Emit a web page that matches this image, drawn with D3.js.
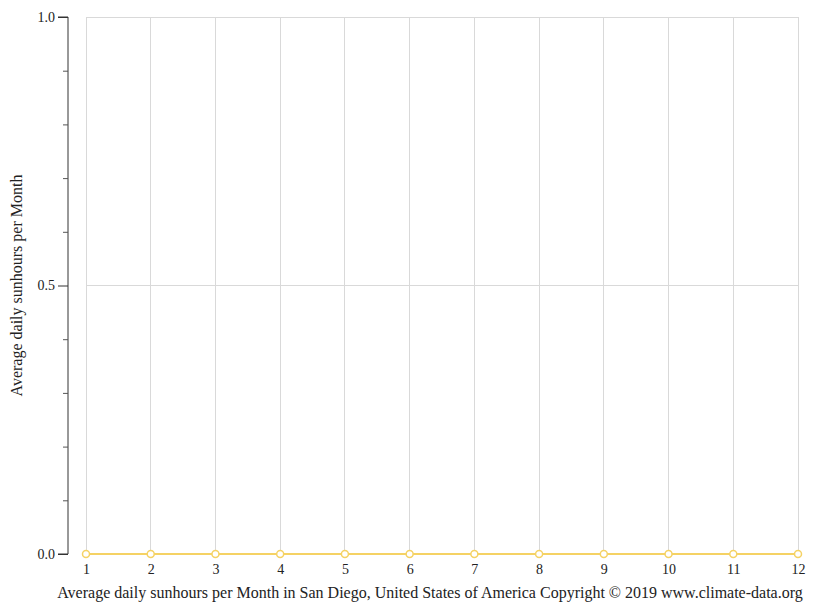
<!DOCTYPE html>
<html><head><meta charset="utf-8">
<script src="https://cdn.jsdelivr.net/npm/d3@7/dist/d3.min.js"></script>
<style>body{margin:0;background:#fff}svg{display:block}text{font-family:"Liberation Serif","DejaVu Serif",serif;fill:#222}</style>
</head><body>
<svg id="c" width="815" height="611"></svg>
<script>
const months = [1,2,3,4,5,6,7,8,9,10,11,12];
const sunhours = [0,0,0,0,0,0,0,0,0,0,0,0];
const yMajorTicks = [0, 0.5, 1.0];
const yMinorTicks = [0.1,0.2,0.3,0.4,0.6,0.7,0.8,0.9];
const yLabel = "Average daily sunhours per Month";
const title = "Average daily sunhours per Month in San Diego, United States of America Copyright © 2019 www.climate-data.org";

const svg = d3.select("#c");
const x = d3.scaleLinear().domain([1,12]).range([86,798]);
const y = d3.scaleLinear().domain([0,1]).range([554,17]);
const axisX = 68;

// grid
svg.append("g").selectAll("line").data(months).join("line")
  .attr("x1",d=>x(d)).attr("x2",d=>x(d)).attr("y1",y(0)).attr("y2",y(1))
  .attr("stroke","#d9d9d9").attr("stroke-width",1).attr("shape-rendering","crispEdges");
svg.append("g").selectAll("line").data(yMajorTicks.filter(d=>d>0)).join("line")
  .attr("x1",x(1)).attr("x2",x(12)).attr("y1",d=>y(d)).attr("y2",d=>y(d))
  .attr("stroke","#d9d9d9").attr("stroke-width",1).attr("shape-rendering","crispEdges");

// y axis
const yAxis = svg.append("g").attr("transform",`translate(${axisX},0)`)
  .call(d3.axisLeft(y).tickValues(yMajorTicks).tickFormat(d3.format(".1f")).tickSize(10).tickPadding(3));
yAxis.select(".domain").attr("stroke","#333").attr("d",`M-10,${y(1)}H0V${y(0)}H-10`);
yAxis.selectAll(".tick line").attr("stroke","#333");
yAxis.selectAll("text").style("font-family","Liberation Serif").style("font-size","14px").attr("fill","#222");
const yMinor = svg.append("g").attr("transform",`translate(${axisX},0)`)
  .call(d3.axisLeft(y).tickValues(yMinorTicks).tickFormat("").tickSize(5));
yMinor.select(".domain").remove();
yMinor.selectAll(".tick line").attr("stroke","#555");

// x labels
const xAxis = svg.append("g").attr("transform",`translate(0,${y(0)})`)
  .call(d3.axisBottom(x).tickValues(months).tickFormat(d3.format("d")).tickSize(0).tickPadding(10));
xAxis.select(".domain").remove();
xAxis.selectAll("text").style("font-family","Liberation Serif").style("font-size","14px").attr("fill","#222");

// line
const col = "#f5d264";
svg.append("path").datum(months.map((m,i)=>[m,sunhours[i]]))
  .attr("d",d3.line().x(d=>x(d[0])).y(d=>y(d[1])))
  .attr("fill","none").attr("stroke",col).attr("stroke-width",2);
svg.append("g").selectAll("circle").data(months.map((m,i)=>[m,sunhours[i]])).join("circle")
  .attr("cx",d=>x(d[0])).attr("cy",d=>y(d[1])).attr("r",3.5)
  .attr("fill","#fff").attr("stroke",col).attr("stroke-width",1.5);

// labels
svg.append("text").attr("transform",`translate(22,${(y(0)+y(1))/2}) rotate(-90)`)
  .attr("text-anchor","middle").style("font-size","16px").text(yLabel);
svg.append("text").attr("x",430).attr("y",598).attr("text-anchor","middle")
  .style("font-size","16px").text(title);
</script>
</body></html>
